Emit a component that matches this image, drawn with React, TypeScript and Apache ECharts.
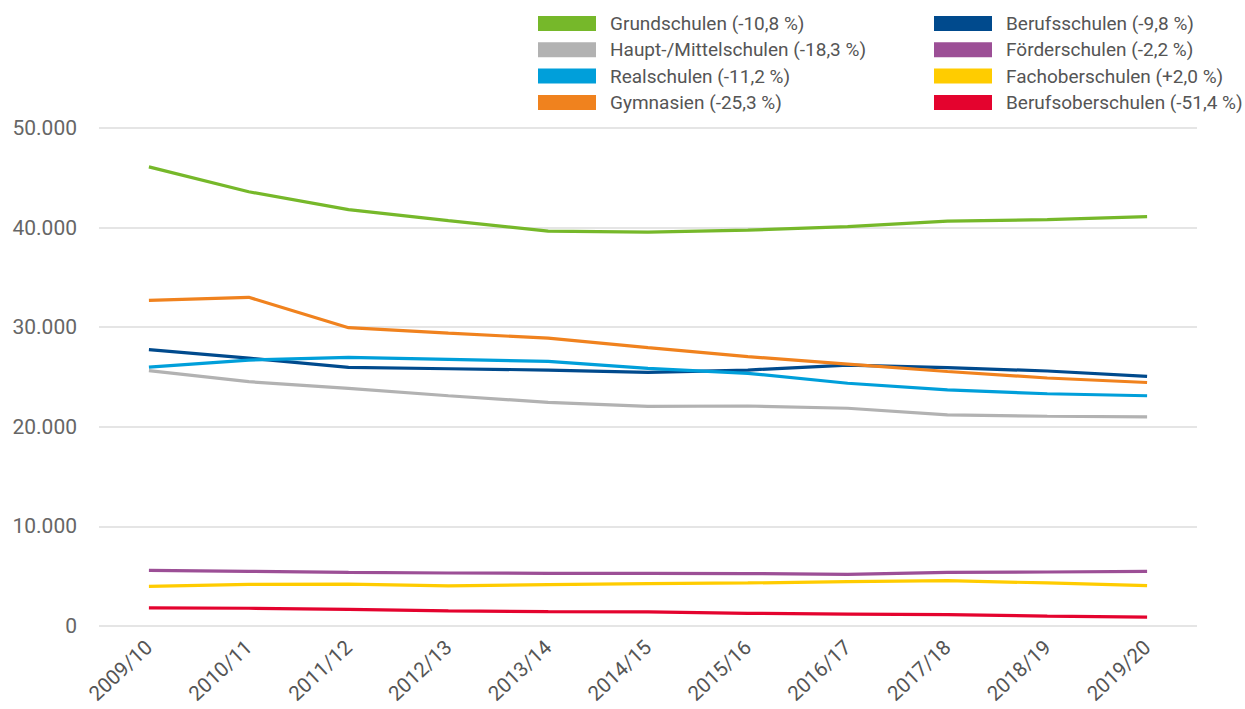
import React, { useEffect, useRef } from "react";
import * as echarts from "echarts";

const categories = ["2009/10", "2010/11", "2011/12", "2012/13", "2013/14", "2014/15", "2015/16", "2016/17", "2017/18", "2018/19", "2019/20"];

const grundschulen = [46100, 43600, 41800, 40700, 39650, 39550, 39750, 40100, 40650, 40800, 41100];
const hauptMittel = [25640, 24530, 23860, 23120, 22460, 22060, 22090, 21860, 21190, 21060, 20990];
const realschulen = [26000, 26700, 26970, 26770, 26570, 25870, 25370, 24370, 23700, 23320, 23120];
const gymnasien = [32700, 33000, 29950, 29400, 28900, 27950, 27050, 26300, 25550, 24900, 24450];
const berufsschulen = [27750, 26900, 25970, 25830, 25700, 25470, 25700, 26200, 25940, 25600, 25070];
const foerderschulen = [5590, 5490, 5390, 5320, 5290, 5290, 5260, 5190, 5390, 5420, 5490];
const fachoberschulen = [3980, 4180, 4200, 4020, 4150, 4250, 4320, 4450, 4550, 4320, 4050];
const berufsoberschulen = [1810, 1780, 1670, 1510, 1440, 1410, 1270, 1200, 1140, 990, 890];

const names = [
  "Grundschulen (-10,8 %)",
  "Haupt-/Mittelschulen (-18,3 %)",
  "Realschulen (-11,2 %)",
  "Gymnasien (-25,3 %)",
  "Berufsschulen (-9,8 %)",
  "Förderschulen (-2,2 %)",
  "Fachoberschulen (+2,0 %)",
  "Berufsoberschulen (-51,4 %)",
];
const colors = ["#76b82a", "#b2b2b2", "#009fda", "#f0821e", "#004a8d", "#9c4f96", "#ffcc00", "#e4032e"];
const values = [grundschulen, hauptMittel, realschulen, gymnasien, berufsschulen, foerderschulen, fachoberschulen, berufsoberschulen];

const yMin = 0;
const yMax = 50000;
const yInterval = 10000;

export default function App() {
  const ref = useRef<HTMLDivElement>(null);
  useEffect(() => {
    document.body.style.margin = "0";
    const chart = echarts.init(ref.current!, undefined, { renderer: "svg" });
    const font = "Roboto, 'Noto Sans', sans-serif";
    const legendCommon = {
      orient: "vertical" as const,
      top: 14,
      icon: "rect",
      itemWidth: 58,
      itemHeight: 15,
      itemGap: 7.3,
      padding: 0,
      textStyle: { fontFamily: font, fontSize: 19, color: "#555", padding: [0, 0, 0, 9] },
      selectedMode: false,
    };
    chart.setOption({
      animation: false,
      color: colors,
      legend: [
        { ...legendCommon, left: 538, data: names.slice(0, 4) },
        { ...legendCommon, left: 934, data: names.slice(4) },
      ],
      grid: { left: 99, right: 48, top: 128, bottom: 83, containLabel: false },
      xAxis: {
        type: "category",
        data: categories,
        boundaryGap: true,
        axisLine: { show: false },
        axisTick: { show: false },
        axisLabel: { rotate: 43, fontFamily: font, fontSize: 20.5, color: "#555", margin: 18, interval: 0 },
      },
      yAxis: {
        type: "value",
        min: yMin,
        max: yMax,
        interval: yInterval,
        axisLine: { show: false },
        axisTick: { show: false },
        splitLine: { lineStyle: { color: "#dcdcdc", width: 1.5 } },
        axisLabel: {
          fontFamily: font,
          fontSize: 21,
          color: "#666",
          margin: 22,
          formatter: (v: number) => v.toLocaleString("de-DE"),
        },
      },
      series: names.map((n, i) => ({
        name: n,
        type: "line",
        data: values[i],
        showSymbol: false,
        symbol: "none",
        lineStyle: { width: 3.2, color: colors[i] },
        itemStyle: { color: colors[i] },
        z: 10 - i,
      })),
    });
    return () => chart.dispose();
  }, []);
  return <div ref={ref} style={{ width: 1245, height: 709 }} />;
}
